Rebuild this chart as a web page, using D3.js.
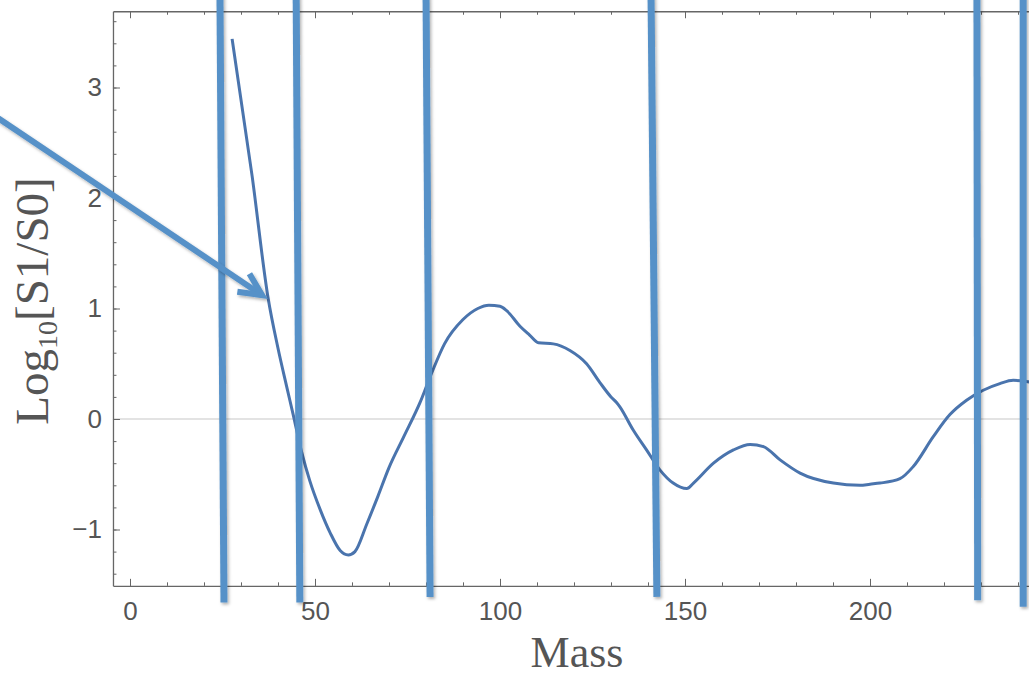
<!DOCTYPE html>
<html>
<head>
<meta charset="utf-8">
<script src="https://cdn.jsdelivr.net/npm/d3@7"></script>
<style>
  body { margin: 0; background: #fff; }
  svg { display: block; }
</style>
</head>
<body>
<div id="chart"></div>
<script>
// curve values: mass vs log10 of S1/S0
const massValues = [27.6, 33, 37.3, 40, 42.3, 44.1, 46.4, 48.6, 51.4, 54.1, 56.8, 59, 60.8, 64, 67, 70, 74, 78.4,
  81.7, 85, 90, 94, 97, 100, 101.8, 105.4, 108, 110.4, 114.4, 118.9, 123.4, 127, 130, 131.5, 132.4,
  136, 139.6, 143.2, 146.8, 150.5, 152.3, 157.7, 163.1, 167.6, 171.2, 175.7, 181.1, 190.1, 197.3,
  200, 202.7, 208.1, 211.7, 217.1, 221.6, 226.1, 230.6, 235.1, 238.7, 242.3, 245];
const logRatio = [3.44, 2.2, 1.1, 0.64, 0.3, 0.04, -0.3, -0.56, -0.82, -1.03, -1.19, -1.23, -1.2, -0.95, -0.7, -0.44, -0.16, 0.15,
  0.43, 0.68, 0.9, 1.0, 1.03, 1.02, 0.98, 0.84, 0.76, 0.69, 0.68, 0.62, 0.5, 0.33, 0.2, 0.15, 0.11,
  -0.1, -0.28, -0.46, -0.58, -0.63, -0.58, -0.4, -0.28, -0.23, -0.25, -0.37, -0.49, -0.58, -0.6,
  -0.59, -0.58, -0.54, -0.43, -0.16, 0.04, 0.17, 0.26, 0.32, 0.35, 0.34, 0.32];

// hand-drawn marker lines (mass at top and at bottom, value where they stop)
const markerTop = [24.3, 44.9, 80.0, 140.8, 228.9, 241.4];
const markerBottom = [25.4, 45.9, 81.1, 142.4, 229.1, 241.4];
const markerEnd = [-1.66, -1.66, -1.61, -1.61, -1.64, -1.70];

// annotation arrow, in data units
const arrowFrom = [-36, 2.73];
const arrowTo = [35.7, 1.12];

// ticks
const xTicks = [0, 50, 100, 150, 200];
const yTicks = [-1, 0, 1, 2, 3];
const xMinor = d3.range(0, 250, 10);
const yMinor = d3.range(-14, 37, 2).map(d => d / 10);

const width = 1029;
const height = 676;
const labelFont = "'Liberation Sans', Arial, Helvetica, sans-serif";
const serifFont = "'Liberation Serif', 'Times New Roman', serif";
const axisColor = "#666";

const svg = d3.select("#chart").append("svg")
  .attr("width", width)
  .attr("height", height);

const defs = svg.append("defs");
defs.append("filter")
  .attr("id", "shadow")
  .attr("x", "-50%").attr("y", "-10%")
  .attr("width", "200%").attr("height", "120%")
  .append("feDropShadow")
  .attr("dx", 1.5).attr("dy", 2)
  .attr("stdDeviation", 1.5)
  .attr("flood-color", "#000")
  .attr("flood-opacity", 0.3);

// scales
const xScale = d3.scaleLinear().domain([0, 200]).range([130, 870]);
const yScale = d3.scaleLinear().domain([0, 3]).range([419, 87.5]);

const xLeft = -4.6, xRight = 246;
const yBottom = -1.51, yTop = 3.69;
const xFrame = xScale.copy().domain([xLeft, xRight]).range([xScale(xLeft), xScale(xRight)]);
const yFrame = yScale.copy().domain([yBottom, yTop]).range([yScale(yBottom), yScale(yTop)]);

// zero gridline
svg.append("line")
  .attr("x1", xFrame(xLeft)).attr("x2", width)
  .attr("y1", yScale(0)).attr("y2", yScale(0))
  .attr("stroke", "#c8c8c8")
  .attr("stroke-width", 1.2);

function styleAxis(g) {
  g.select(".domain").attr("stroke", axisColor).attr("stroke-width", 1.3);
  g.selectAll(".tick line").attr("stroke", axisColor).attr("stroke-width", 1);
  g.selectAll("text")
    .attr("fill", "#555")
    .style("font-family", labelFont)
    .style("font-size", "26px");
}

// bottom axis
svg.append("g")
  .attr("transform", `translate(0, ${yFrame(yBottom)})`)
  .call(d3.axisBottom(xFrame).tickValues(xMinor).tickSize(-3.5).tickSizeOuter(0).tickFormat(""))
  .call(g => g.select(".domain").remove())
  .call(styleAxis);
svg.append("g")
  .attr("transform", `translate(0, ${yFrame(yBottom)})`)
  .call(d3.axisBottom(xFrame).tickValues(xTicks).tickSize(-7).tickSizeOuter(0).tickPadding(16)
    .tickFormat(d3.format("d")))
  .call(styleAxis);

// top frame
svg.append("g")
  .attr("transform", `translate(0, ${yFrame(yTop)})`)
  .call(d3.axisTop(xFrame).tickValues(xMinor).tickSize(-3.5).tickSizeOuter(0).tickFormat(""))
  .call(g => g.select(".domain").remove())
  .call(styleAxis);
svg.append("g")
  .attr("transform", `translate(0, ${yFrame(yTop)})`)
  .call(d3.axisTop(xFrame).tickValues(xTicks).tickSize(-7).tickSizeOuter(0).tickFormat(""))
  .call(styleAxis);

// left axis
svg.append("g")
  .attr("transform", `translate(${xFrame(xLeft)}, 0)`)
  .call(d3.axisLeft(yFrame).tickValues(yMinor).tickSize(-3.5).tickSizeOuter(0).tickFormat(""))
  .call(g => g.select(".domain").remove())
  .call(styleAxis);
svg.append("g")
  .attr("transform", `translate(${xFrame(xLeft)}, 0)`)
  .call(d3.axisLeft(yFrame).tickValues(yTicks).tickSize(-7).tickSizeOuter(0).tickPadding(11)
    .tickFormat(d3.format("d")))
  .call(styleAxis);

// the curve
const curveData = massValues.map((m, i) => ({ mass: m, value: logRatio[i] }));
const line = d3.line()
  .x(d => xScale(d.mass))
  .y(d => yScale(d.value))
  .curve(d3.curveMonotoneX);

svg.append("path")
  .datum(curveData)
  .attr("fill", "none")
  .attr("stroke", "#4a74ad")
  .attr("stroke-width", 3)
  .attr("stroke-linejoin", "round")
  .attr("d", line);

// vertical marker lines
const markerColor = "#5691c8";
const markers = markerTop.map((m, i) => ({ top: m, bottom: markerBottom[i], end: markerEnd[i] }));
svg.append("g")
  .attr("filter", "url(#shadow)")
  .selectAll("line")
  .data(markers)
  .join("line")
  .attr("x1", d => xScale(d.top))
  .attr("y1", yScale(3.9))
  .attr("x2", d => xScale(d.bottom))
  .attr("y2", d => yScale(d.end))
  .attr("stroke", markerColor)
  .attr("stroke-width", 7);

// arrow
const ax0 = xScale(arrowFrom[0]), ay0 = yScale(arrowFrom[1]);
const ax1 = xScale(arrowTo[0]), ay1 = yScale(arrowTo[1]);
const back = Math.atan2(ay0 - ay1, ax0 - ax1);
const headLen = 25, spread = 0.45;
const arrow = svg.append("g").attr("filter", "url(#shadow)");
arrow.append("line")
  .attr("x1", ax0).attr("y1", ay0)
  .attr("x2", ax1 - 3 * Math.cos(back + Math.PI)).attr("y2", ay1 - 3 * Math.sin(back + Math.PI))
  .attr("stroke", markerColor)
  .attr("stroke-width", 6);
arrow.append("path")
  .attr("d", `M${ax1 + headLen * Math.cos(back + spread)},${ay1 + headLen * Math.sin(back + spread)}`
    + `L${ax1},${ay1}`
    + `L${ax1 + headLen * Math.cos(back - spread)},${ay1 + headLen * Math.sin(back - spread)}`)
  .attr("fill", "none")
  .attr("stroke", markerColor)
  .attr("stroke-width", 6)
  .attr("stroke-linejoin", "miter");

// axis titles
svg.append("text")
  .attr("x", 577)
  .attr("y", 667)
  .attr("text-anchor", "middle")
  .attr("fill", "#555")
  .style("font-family", serifFont)
  .style("font-size", "44px")
  .text("Mass");

const yLabel = svg.append("text")
  .attr("transform", "translate(48, 301) rotate(-90)")
  .attr("text-anchor", "middle")
  .attr("fill", "#555")
  .style("font-family", serifFont)
  .style("font-size", "47px");
yLabel.append("tspan").text("Log");
yLabel.append("tspan").attr("dy", 9).style("font-size", "28px").text("10");
yLabel.append("tspan").attr("dy", -9).text("[S1/S0]");
</script>
</body>
</html>
